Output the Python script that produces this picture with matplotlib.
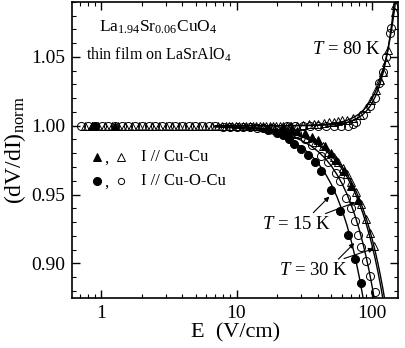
import matplotlib
matplotlib.use("Agg")
import matplotlib.pyplot as plt
from matplotlib.ticker import LogLocator, MultipleLocator, NullFormatter, FixedLocator, FixedFormatter

plt.rcParams["font.family"] = ["Liberation Serif", "DejaVu Serif"]
plt.rcParams["mathtext.fontset"] = "custom"
plt.rcParams["mathtext.rm"] = "Liberation Serif"
plt.rcParams["mathtext.it"] = "Liberation Serif:italic"

# --- data ---
# plateau field values (shared by the open markers at low E)
E_plateau = [0.72, 0.81, 0.91, 1.02, 1.14, 1.27, 1.43, 1.6, 1.79, 2.0, 2.25, 2.52,
             2.82, 3.16, 3.54, 3.97, 4.45, 4.98, 5.58, 6.25, 7.0]

# T = 80 K, I // Cu-Cu (open triangles, rising)
E_tri80 = [0.76, 0.86, 0.96, 1.08, 1.21, 1.35, 1.52, 1.7, 1.9, 2.13, 2.38, 2.67, 3.0,
           3.35, 3.76, 4.2, 4.7, 5.3, 5.9, 6.6, 25, 28, 31, 34, 37, 40, 44, 48, 52, 56,
           60, 65, 72, 80.6, 90.3, 98.2, 106.7, 113.2, 119.7, 127, 131, 146, 147]
y_tri80 = [1.0] * 20 + [1.0, 1.0, 1.0005, 1.001, 1.001, 1.0015, 1.002, 1.0025, 1.003,
                        1.0035, 1.004, 1.0045, 1.0056, 1.008, 1.0128, 1.0188, 1.026,
                        1.0333, 1.039, 1.0466, 1.055, 1.0828, 1.0877]

# T = 80 K, I // Cu-O-Cu (open circles, rising)
E_cir80 = E_plateau + [23.5, 27, 31, 35, 40, 46, 52, 59, 66, 72, 76, 85, 95.6, 104,
                       113, 119.6, 127, 136, 137.7]
y_cir80 = [1.0] * 21 + [0.9995, 0.9995, 0.9995, 0.9995, 0.9995, 0.9995, 0.9995,
                        0.9995, 1.0, 1.001, 1.003, 1.008, 1.014, 1.020, 1.031,
                        1.039, 1.050, 1.067, 1.0708]

# T = 30 K, I // Cu-Cu (open triangles, falling)
E_tri30 = [7.3, 7.8, 8.3, 8.8, 9.3, 9.9, 10.5, 11.1, 11.8, 12.5, 13.2, 14.0, 14.8,
           15.7, 16.6, 17.6, 18.6, 19.7, 20.9, 22.1, 23.4, 24.8, 28, 33, 38, 43, 47,
           52, 56, 60.5, 65, 70, 76, 82.8, 90.3, 96.8, 103.7]
y_tri30 = [1.0] * 22 + [0.994, 0.991, 0.988, 0.985, 0.981, 0.977, 0.974, 0.969,
                        0.965, 0.959, 0.952, 0.943, 0.932, 0.922, 0.9125]

# T = 30 K, I // Cu-O-Cu (open circles, falling)
E_cir30 = [7.9, 8.9, 10.0, 11.2, 12.6, 14.1, 15.8, 17.8, 20.0, 22.4, 25.1, 28, 32,
           35.7, 42, 47, 54.5, 58, 64, 70, 74, 78.4, 83, 90, 95.5, 104]
y_cir30 = [0.999, 0.999, 0.999, 0.999, 0.999, 0.998, 0.998, 0.998, 0.997, 0.997,
           0.996, 0.995, 0.990, 0.986, 0.978, 0.974, 0.966, 0.960, 0.9475, 0.940,
           0.931, 0.921, 0.912, 0.902, 0.891, 0.879]

# T = 15 K, I // Cu-Cu (filled triangles)
E_tri15 = [0.86, 1.27, 22, 25, 28, 32.2, 36, 39.8, 45, 50, 54.4, 61.5, 70.1, 78.4]
y_tri15 = [1.0, 1.0, 0.998, 0.997, 0.996, 0.9947, 0.992, 0.9893, 0.985, 0.980,
           0.9754, 0.9674, 0.9565, 0.9459]

# T = 15 K, I // Cu-O-Cu (filled circles)
E_cir15 = [0.9, 17, 20, 22, 24.2, 26.5, 29.7, 33.6, 37.7, 42.2, 50, 58.2, 66.2,
           74.1, 82]
y_cir15 = [1.0, 0.997, 0.995, 0.993, 0.9904, 0.987, 0.983, 0.979, 0.9734, 0.9674,
           0.9536, 0.9379, 0.921, 0.9034, 0.8855]

# fit curves (solid lines)
E_fit = [7, 10, 15, 20, 25, 30, 35, 40, 45, 50, 55, 60, 65, 70, 75, 80, 85, 90, 95,
         100, 105, 110, 115, 120, 125, 130, 135, 140, 145, 150]
fit_cir15 = [0.9992, 0.9983, 0.9962, 0.9932, 0.9893, 0.9846, 0.9791, 0.9727,
             0.9654, 0.9573, 0.9483, 0.9385, 0.9279, 0.9163, 0.9040, 0.8907,
             0.8766, 0.8617]
fit_cir30 = [0.9994, 0.9988, 0.9974, 0.9953, 0.9927, 0.9894, 0.9856, 0.9812,
             0.9763, 0.9707, 0.9645, 0.9578, 0.9505, 0.9425, 0.9340, 0.9249,
             0.9153, 0.9050, 0.8942, 0.8827, 0.8707, 0.8581]
fit_tri15 = [0.9996, 0.9991, 0.9980, 0.9965, 0.9945, 0.9921, 0.9893, 0.9860,
             0.9823, 0.9781, 0.9735, 0.9685, 0.9630, 0.9571, 0.9508, 0.9440,
             0.9368, 0.9291, 0.9210, 0.9125, 0.9035, 0.8941, 0.8842, 0.8740,
             0.8632]
fit_tri30 = [0.9996, 0.9992, 0.9981, 0.9967, 0.9948, 0.9926, 0.9899, 0.9868,
             0.9833, 0.9794, 0.9750, 0.9703, 0.9651, 0.9595, 0.9536, 0.9472,
             0.9403, 0.9331, 0.9255, 0.9174, 0.9090, 0.9001, 0.8908, 0.8811,
             0.8710, 0.8604]
fit_tri80 = [1.0, 1.0, 1.0, 1.0, 1.0001, 1.0002, 1.0004, 1.0006, 1.0010, 1.0014,
             1.0021, 1.0029, 1.0039, 1.0052, 1.0068, 1.0086, 1.0109, 1.0135,
             1.0166, 1.0201, 1.0242, 1.0289, 1.0343, 1.0403, 1.0470, 1.0546,
             1.0631, 1.0724, 1.0827, 1.0940]
fit_cir80 = [1.0, 1.0, 1.0, 1.0, 1.0, 1.0001, 1.0001, 1.0003, 1.0005, 1.0007,
             1.0011, 1.0017, 1.0024, 1.0034, 1.0046, 1.0061, 1.0081, 1.0104,
             1.0133, 1.0168, 1.0209, 1.0257, 1.0315, 1.0381, 1.0458, 1.0546,
             1.0647, 1.0762, 1.0892, 1.1039]

fig = plt.figure(figsize=(4.05, 3.48), dpi=100)
ax = fig.add_axes([0.178, 0.144, 0.805, 0.851])

for fit in [fit_cir15, fit_cir30, fit_tri15, fit_tri30, fit_tri80, fit_cir80]:
    ax.plot(E_fit[:len(fit)], fit, color="black", lw=1.0, zorder=2)

ms = 5.8
open_kw = dict(ls="none", mfc="none", mec="black", mew=0.7, ms=ms, zorder=3)
fill_kw = dict(ls="none", mfc="black", mec="black", mew=0.7, ms=ms, zorder=4)
ax.plot(E_tri80, y_tri80, marker="^", **open_kw)
ax.plot(E_cir80, y_cir80, marker="o", **open_kw)
ax.plot(E_tri30, y_tri30, marker="^", **open_kw)
ax.plot(E_cir30, y_cir30, marker="o", **open_kw)
ax.plot(E_tri15, y_tri15, marker="^", **fill_kw)
ax.plot(E_cir15, y_cir15, marker="o", **fill_kw)

ax.set_xscale("log")
ax.set_xlim(0.615, 155)
ax.set_ylim(0.875, 1.09)
ax.xaxis.set_major_locator(FixedLocator([1, 10, 100]))
ax.xaxis.set_major_formatter(FixedFormatter(["1", "10", "100"]))
ax.xaxis.set_minor_locator(LogLocator(base=10, subs=range(2, 10), numticks=20))
ax.xaxis.set_minor_formatter(NullFormatter())
ax.yaxis.set_major_locator(FixedLocator([0.90, 0.95, 1.00, 1.05]))
ax.yaxis.set_major_formatter(FixedFormatter(["0.90", "0.95", "1.00", "1.05"]))
ax.yaxis.set_minor_locator(MultipleLocator(0.01))
ax.tick_params(which="both", direction="in", top=True, right=True, labelsize=14)
ax.tick_params(which="major", length=6, width=1, pad=5)
ax.tick_params(which="minor", length=3, width=0.8)
for s in ax.spines.values():
    s.set_linewidth(1.2)

ax.set_xlabel("E  (V/cm)", fontsize=16, labelpad=1)
ax.set_ylabel(r"(dV/dI)$_\mathrm{norm}$", fontsize=17, labelpad=2)

ax.text(0.265, 0.915, r"La$_{1.94}$Sr$_{0.06}$CuO$_4$", transform=ax.transAxes,
        ha="center", va="center", fontsize=12.5)
ax.text(0.265, 0.82, r"thin film on LaSrAlO$_4$", transform=ax.transAxes,
        ha="center", va="center", fontsize=11.5)

# legend drawn by hand
ax.plot([0.077], [0.476], marker="^", transform=ax.transAxes, **fill_kw)
ax.plot([0.150], [0.476], marker="^", transform=ax.transAxes, **open_kw)
ax.text(0.106, 0.47, ",", transform=ax.transAxes, ha="center", va="center", fontsize=12)
ax.text(0.212, 0.476, "I // Cu-Cu", transform=ax.transAxes, ha="left", va="center", fontsize=12)
ax.plot([0.077], [0.394], marker="o", transform=ax.transAxes, **fill_kw)
ax.plot([0.150], [0.394], marker="o", transform=ax.transAxes, ms=4.5,
        ls="none", mfc="none", mec="black", mew=0.7)
ax.text(0.106, 0.388, ",", transform=ax.transAxes, ha="center", va="center", fontsize=12)
ax.text(0.212, 0.394, "I // Cu-O-Cu", transform=ax.transAxes, ha="left", va="center", fontsize=12)

ax.text(0.948, 0.838, r"$T$ = 80 K", transform=ax.transAxes, ha="right", va="center",
        fontsize=13.5)
ax.text(0.795, 0.247, r"$T$ = 15 K", transform=ax.transAxes, ha="right", va="center",
        fontsize=13.5)
ax.text(0.846, 0.091, r"$T$ = 30 K", transform=ax.transAxes, ha="right", va="center",
        fontsize=13.5)

arr = dict(arrowstyle="-|>", color="black", lw=0.8, mutation_scale=7)
ax.annotate("", xy=(50, 0.950), xytext=(35.6, 0.9355), arrowprops=arr)
ax.annotate("", xy=(78.4, 0.9451), xytext=(43.3, 0.9355), arrowprops=arr)
ax.annotate("", xy=(76.3, 0.9162), xytext=(54.4, 0.9017), arrowprops=arr)
ax.annotate("", xy=(107, 0.9114), xytext=(59.2, 0.9029), arrowprops=arr)

fig.savefig("out.png", dpi=100)
